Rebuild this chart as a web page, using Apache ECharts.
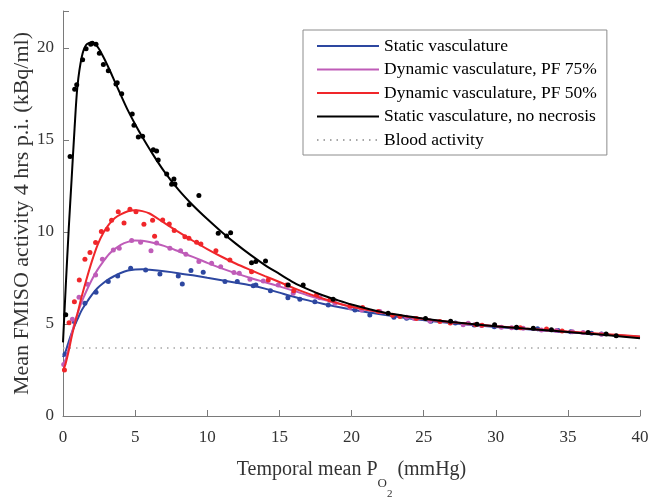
<!DOCTYPE html>
<html lang="en">

<head>
  <meta charset="utf-8">
  <title>FMISO activity vs pO2</title>
  <style>
    html, body { margin: 0; padding: 0; background: #fff; }
    #chart { width: 652px; height: 497px; }
  </style>
</head>

<body>
  <div id="chart"></div>
</body>

<script src="https://cdn.jsdelivr.net/npm/echarts@6/dist/echarts.min.js"></script>

<script>
  // fitted curves, all sampled on the same x values
  var fitX = [0, 0.2, 0.4, 0.6, 0.8, 1, 1.3, 1.6, 2, 2.4, 2.8, 3.2, 3.6, 4, 4.5, 5, 5.5, 6, 7, 8, 9, 10,
    11, 12, 13, 14, 15, 16, 17, 18, 19, 20, 22, 24, 26, 28, 30, 32, 34, 36, 38, 40];
  var staticFit = [3.2, 3.55, 4.05, 4.5, 4.9, 5.25, 5.75, 6.12, 6.58, 6.95, 7.22, 7.45, 7.62, 7.77, 7.9, 7.96, 7.97, 7.94, 7.86, 7.76, 7.64, 7.51,
    7.38, 7.24, 7.1, 6.92, 6.7, 6.48, 6.28, 6.1, 5.93, 5.78, 5.52, 5.3, 5.12, 4.97, 4.84, 4.72, 4.61, 4.5, 4.4, 4.3];
  var pf75Fit = [2.8, 3.1, 3.7, 4.45, 5.05, 5.55, 6.2, 6.75, 7.4, 7.95, 8.4, 8.8, 9.08, 9.3, 9.46, 9.53, 9.52, 9.45, 9.24, 8.95, 8.64, 8.32,
    8.02, 7.75, 7.5, 7.27, 7.04, 6.8, 6.55, 6.32, 6.12, 5.93, 5.63, 5.37, 5.17, 5.0, 4.87, 4.74, 4.62, 4.51, 4.4, 4.28];
  var pf50Fit = [2.45, 2.9, 3.55, 4.3, 4.95, 5.55, 6.5, 7.35, 8.4, 9.3, 9.95, 10.42, 10.75, 10.95, 11.12, 11.17, 11.13, 11.0, 10.5, 10.0, 9.52, 9.07,
    8.65, 8.27, 7.93, 7.6, 7.28, 6.95, 6.65, 6.38, 6.14, 5.94, 5.64, 5.38, 5.18, 5.02, 4.88, 4.76, 4.65, 4.54, 4.43, 4.32];
  var noNecFit = [4.0, 7.2, 10.2, 12.9, 15.6, 17.9, 19.5, 20.15, 20.3, 20.05, 19.5, 18.85, 18.15, 17.45, 16.6, 15.85, 15.15, 14.5, 13.3, 12.3, 11.45, 10.7,
    10.0, 9.35, 8.75, 8.2, 7.72, 7.25, 6.88, 6.56, 6.3, 6.06, 5.66, 5.4, 5.19, 5.02, 4.88, 4.75, 4.63, 4.5, 4.37, 4.22];

  // simulated points
  var staticX = [0.14, 0.79, 1.52, 2.29, 3.14, 3.79, 4.69, 5.73, 6.72, 7.99, 8.27, 8.87, 9.72, 11.23, 12.08, 13.19, 13.37, 14.38,
    15.59, 16.42, 17.46, 18.39, 20.24, 21.27, 22.94, 23.82, 25.5, 27.2, 28.5, 29.9, 31.44, 32.9, 34.32, 35.2, 36.64, 37.33];
  var staticY = [3.35, 5.12, 6.12, 6.72, 7.3, 7.61, 8.03, 7.93, 7.72, 7.61, 7.17, 7.9, 7.81, 7.3, 7.3, 7.07, 7.12, 6.8,
    6.43, 6.34, 6.21, 6.03, 5.76, 5.49, 5.36, 5.31, 5.15, 5.05, 4.95, 4.85, 4.8, 4.74, 4.64, 4.58, 4.49, 4.46];
  var pf75X = [0.05, 0.65, 1.11, 1.69, 2.26, 2.73, 3.49, 3.9, 4.76, 5.38, 6.1, 6.49, 7.41, 8.15, 8.52, 9.42, 10.3, 10.93, 11.85, 12.22,
    12.96, 13.88, 14.92, 15.96, 17.81, 18.85, 19.89, 20.7, 21.97, 23.82, 24.35, 25.43, 27.74, 28.09, 29.01, 30.39, 31.1, 31.9,
    33.17, 34.21, 35.32, 36.06, 37.33];
  var pf75Y = [2.8, 5.25, 6.45, 7.16, 7.66, 8.52, 9.02, 9.11, 9.53, 9.44, 8.97, 9.4, 9.11, 8.98, 8.79, 8.39, 8.3, 8.11, 7.79, 7.75,
    7.43, 7.34, 7.12, 6.67, 6.43, 6.12, 5.9, 5.76, 5.67, 5.36, 5.29, 5.16, 4.96, 5.04, 4.91, 4.82, 4.8, 4.77,
    4.67, 4.64, 4.57, 4.53, 4.44];
  var pf50X = [0.1, 0.42, 0.79, 1.13, 1.52, 1.87, 2.26, 2.66, 3.07, 3.37, 3.83, 4.23, 4.64, 5.06, 5.61, 6.21, 6.35, 6.91, 7.37, 7.71,
    8.45, 8.73, 9.26, 9.56, 10.6, 11.57, 13.07, 14.23, 15.5, 16.0, 17.58, 18.5, 19.89, 20.77, 21.85, 22.84, 23.36, 24.5,
    26.13, 26.85, 28.6, 29.05, 31.7, 33.52, 34.6];
  var pf50Y = [2.5, 5.07, 6.21, 7.39, 8.52, 8.88, 9.42, 10.02, 10.15, 10.63, 11.09, 10.49, 11.23, 11.09, 10.42, 10.63, 9.76, 10.65, 10.43, 10.07,
    9.74, 9.65, 9.44, 9.35, 8.97, 8.48, 7.84, 7.39, 7.12, 6.81, 6.58, 6.3, 5.98, 5.9, 5.67, 5.47, 5.4, 5.29,
    5.13, 5.05, 4.96, 4.93, 4.79, 4.73, 4.62];
  var noNecX = [0.19, 0.49, 0.81, 0.95, 1.36, 1.6, 1.92, 2.03, 2.29, 2.52, 2.8, 3.14, 3.67, 3.76, 4.07, 4.8, 4.92, 5.22, 5.52, 6.26,
    6.49, 6.6, 7.19, 7.53, 7.69, 7.76, 8.75, 9.42, 10.76, 11.34, 11.62, 13.07, 13.37, 14.04, 15.61, 16.65, 18.73, 22.54,
    25.13, 26.87, 28.7, 29.92, 31.44, 32.6, 33.86, 36.4, 37.65, 38.35];
  var noNecY = [5.5, 14.1, 17.75, 18.0, 19.35, 19.95, 20.2, 20.25, 20.2, 19.7, 19.1, 18.75, 18.04, 18.1, 17.5, 16.4, 15.8, 15.15, 15.2, 14.46,
    14.4, 13.9, 13.15, 12.59, 12.88, 12.6, 11.47, 11.98, 9.93, 9.78, 9.96, 8.33, 8.39, 8.42, 7.12, 7.12, 6.34, 5.58,
    5.29, 5.15, 4.99, 4.96, 4.82, 4.77, 4.69, 4.53, 4.45, 4.36];

  var bloodLevel = 3.7;
  var bloodX = [0, 40];

  var names = ['Static vasculature', 'Dynamic vasculature, PF 75%', 'Dynamic vasculature, PF 50%',
    'Static vasculature, no necrosis', 'Blood activity'];
  var colors = ['#2d47a0', '#bf5cb8', '#f0262a', '#000000', '#a6a6a6'];

  function pairs(xs, ys) {
    return xs.map(function (x, i) { return [x, ys[i]]; });
  }

  var fits = [staticFit, pf75Fit, pf50Fit, noNecFit];
  var ptsX = [staticX, pf75X, pf50X, noNecX];
  var ptsY = [staticY, pf75Y, pf50Y, noNecY];
  var font = 'Liberation Serif';

  var series = [];
  series.push({
    name: names[4],
    type: 'line',
    symbol: 'none',
    data: bloodX.map(function (x) { return [x, bloodLevel]; }),
    lineStyle: { color: colors[4], width: 1.5, type: [1.5, 5] },
    itemStyle: { color: colors[4] },
    z: 1
  });
  for (var i = 0; i < 4; i++) {
    series.push({
      name: names[i],
      type: 'line',
      symbol: 'none',
      smooth: 0.3,
      data: pairs(fitX, fits[i]),
      lineStyle: { color: colors[i], width: 2 },
      itemStyle: { color: colors[i] },
      z: 2 + i
    });
    series.push({
      name: names[i] + ' points',
      type: 'scatter',
      symbolSize: 5,
      data: pairs(ptsX[i], ptsY[i]),
      itemStyle: { color: colors[i], opacity: 1 },
      z: 2 + i
    });
  }

  var plot = echarts.init(document.getElementById('chart'), null, { renderer: 'canvas' });

  option = {
    backgroundColor: '#fff',
    animation: false,
    grid: { left: 63, right: 12, top: 11, bottom: 81, outerBoundsMode: 'none', containLabel: false },
    legend: {
      data: names,
      orient: 'vertical',
      left: 303,
      top: 30,
      padding: [7, 10, 6, 13],
      itemGap: 5.5,
      itemWidth: 62,
      itemHeight: 14,
      borderColor: '#8c8c8c',
      borderWidth: 1,
      backgroundColor: '#fff',
      itemStyle: { opacity: 0 },
      textStyle: { fontFamily: font, fontSize: 17.5, color: '#000', padding: [0, 0, 0, 0] }
    },
    xAxis: {
      type: 'value',
      min: 0,
      max: 40,
      interval: 5,
      name: '{t|Temporal mean P}{o|O}{s|2}{t| (mmHg)}',
      nameLocation: 'middle',
      nameGap: 44,
      nameMoveOverlap: false,
      nameTextStyle: {
        rich: {
          t: { fontFamily: font, fontSize: 20, color: '#333' },
          o: { fontFamily: font, fontSize: 13, color: '#333', verticalAlign: 'bottom', padding: [0, 0, -10, 0] },
          s: { fontFamily: font, fontSize: 11, color: '#333', verticalAlign: 'bottom', padding: [0, 0, -20, 0] }
        }
      },
      axisLine: { onZero: false, lineStyle: { color: '#7a7a7a', width: 1 } },
      axisTick: { inside: true, length: 6, lineStyle: { color: '#7a7a7a' } },
      axisLabel: { fontFamily: font, fontSize: 17, color: '#333', margin: 13 },
      splitLine: { show: false }
    },
    yAxis: {
      type: 'value',
      min: 0,
      max: 22,
      interval: 5,
      name: 'Mean FMISO activity 4 hrs p.i. (kBq/ml)',
      nameLocation: 'middle',
      nameGap: 30,
      nameMoveOverlap: false,
      nameTextStyle: { fontFamily: font, fontSize: 22, color: '#333' },
      axisLine: { show: true, lineStyle: { color: '#7a7a7a', width: 1 } },
      axisTick: { show: true, inside: true, length: 6, lineStyle: { color: '#7a7a7a' } },
      axisLabel: {
        fontFamily: font, fontSize: 17, color: '#333', margin: 9,
        formatter: function (v) { return v % 5 === 0 ? v : ''; }
      },
      splitLine: { show: false }
    },
    series: series
  };
  plot.setOption(option = option)
</script>

</html>
